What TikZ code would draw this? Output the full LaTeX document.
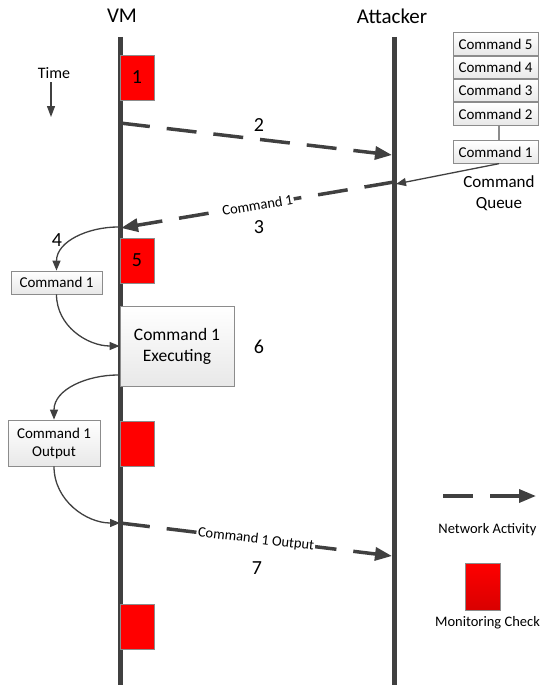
\documentclass[tikz,border=0pt]{standalone}
\usepackage{fontspec}
\setmainfont{Carlito}
\usetikzlibrary{arrows.meta,positioning}
\definecolor{ink}{HTML}{404040}
\definecolor{boxline}{HTML}{8C8C8C}
\definecolor{chkred}{HTML}{FF0000}

\begin{document}
\begin{tikzpicture}[
    x=1pt, y=-1pt,
    lifeline/.style={ink,line width=5pt},
    net/.style={ink,line width=3.5pt,dash pattern=on 30pt off 17pt,
      -{Triangle[length=17pt,width=13pt]}},
    flow/.style={ink,line width=1.3pt,-{Triangle[length=10pt,width=8pt]}},
    check/.style={draw=boxline,line width=0.8pt,fill=chkred,minimum width=34pt,
      minimum height=45pt,inner sep=0pt,font=\fontsize{20}{22}\selectfont},
    cmdbox/.style={draw=boxline,line width=0.8pt,top color=white,bottom color=gray!18,
      inner sep=1pt,align=center,font=\fontsize{15}{18}\selectfont},
    num/.style={font=\fontsize{20}{22}\selectfont},
    msg/.style={sloped,fill=white,text=black,inner sep=1pt,font=\fontsize{14.5}{16}\selectfont}
    ]
    \useasboundingbox (0,0) rectangle (544,685);
    % lifelines
    \node[font=\fontsize{21}{24}\selectfont] (vm) at (122,16) {VM};
    \node[font=\fontsize{21}{24}\selectfont] (att) at (392,16) {Attacker};
    \coordinate (vmtop) at (120,37);
    \coordinate (vmbot) at (120,685);
    \coordinate (atttop) at (394,37);
    \coordinate (attbot) at (394,685);
    \draw[lifeline] (vmtop) -- (vmbot);
    \draw[lifeline] (atttop) -- (attbot);
    % time
    \node[font=\fontsize{16}{18}\selectfont] (time) at (54,73) {Time};
    \coordinate (timeend) at (51,117);
    \draw[ink,line width=1.3pt,-{Triangle[length=11pt,width=8pt]}] (time.south -| timeend) -- (timeend);
    % monitoring checks
    \node[check] (chk1) at (137,77.5) {1};
    \node[check] (chk5) at (137,260.5) {5};
    \node[check] (chk6) at (137,443.5) {};
    \node[check] (chk7) at (137,626.5) {};
    % step 2
    \coordinate (a2s) at (120,123);
    \coordinate (a2e) at (392,155);
    \draw[net] (a2s) -- (a2e);
    \node[num] (n2) at (259,125) {2};
    % command queue
    \node[cmdbox,minimum width=85pt,minimum height=22.5pt] (q5) at (495.5,44) {Command 5};
    \node[cmdbox,minimum width=85pt,minimum height=22.5pt,below=0pt of q5] (q4) {Command 4};
    \node[cmdbox,minimum width=85pt,minimum height=22.5pt,below=0pt of q4] (q3) {Command 3};
    \node[cmdbox,minimum width=85pt,minimum height=22.5pt,below=0pt of q3] (q2) {Command 2};
    \node[cmdbox,minimum width=85pt,minimum height=22.5pt] (q1) at (495.5,152) {Command 1};
    \draw[boxline,line width=1.3pt] ([xshift=3.5pt]q2.south) -- ([xshift=3.5pt]q1.north);
    \node[align=center,font=\fontsize{17}{21}\selectfont] (queue) at (499,193) {Command\\Queue};
    % step 3
    \coordinate (a3s) at (394,182);
    \coordinate (a3e) at (121,228);
    \draw[flow] ([xshift=3.5pt]q1.south) -- (396,184);
    \draw[net] (a3s) -- node[msg] (m3) {Command 1} (a3e);
    \node[num] (n3) at (259,227) {3};
    % step 4
    \node[cmdbox,minimum width=91pt,minimum height=23pt] (c1) at (56.5,282.5) {Command 1};
    \node[num] (n4) at (57,240) {4};
    \draw[flow] (118,227) to[out=180,in=90] (c1.north);
    % step 6
    \node[cmdbox,minimum width=114pt,minimum height=80pt,font=\fontsize{17.5}{21}\selectfont] (exec) at (177,346) {Command 1\\Executing};
    \node[num] (n6) at (259,347) {6};
    \draw[flow] (c1.south) to[out=-90,in=180] (exec.west);
    \coordinate (execout) at (118,375);
    \coordinate (a7s) at (120,523);
    \node[cmdbox,minimum width=92pt,minimum height=46pt] (out) at (54,443) {Command 1\\Output};
    \draw[flow] (execout) to[out=180,in=90] (out.north);
    \draw[flow] (out.south) to[out=-90,in=180] (a7s);
    % step 7
    \coordinate (a7e) at (392,556);
    \draw[net] (a7s) -- node[msg] (m7) {Command 1 Output} (a7e);
    \node[num] (n7) at (257,568) {7};
    % legend
    \coordinate (lg1) at (443,496);
    \coordinate (lg2) at (536,496);
    \draw[net] (lg1) -- (lg2);
    \node[font=\fontsize{14.5}{17}\selectfont] (lgnet) at (487.5,530) {Network Activity};
    \node[check,minimum width=35pt,minimum height=47pt,top color=chkred,bottom color=chkred!85!black] (lgchk) at (482.5,586.5) {};
    \node[font=\fontsize{14.5}{17}\selectfont] (lgchktxt) at (487.5,623) {Monitoring Check};
  \end{tikzpicture}
\end{document}
